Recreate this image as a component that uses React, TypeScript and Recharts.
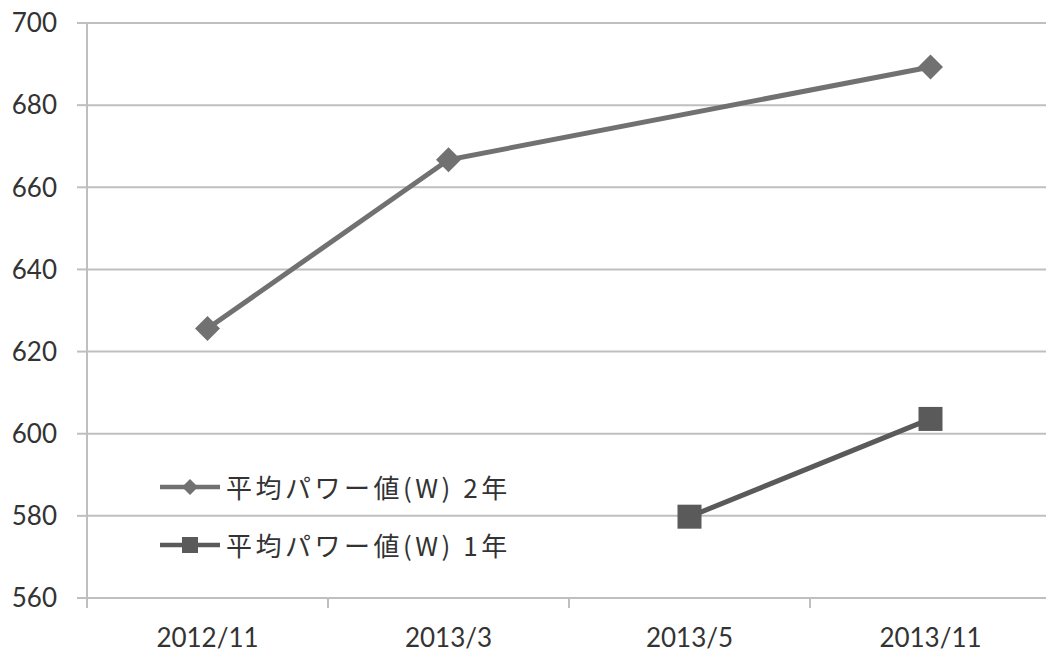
import { CartesianGrid, Line, LineChart, XAxis, YAxis } from "recharts";

// 計測月ごとの平均パワー値
const periods = ["2012/11", "2013/3", "2013/5", "2013/11"];
const twoYearPower = [625.6, 666.7, null, 689.3];
const oneYearPower = [null, null, 579.8, 603.6];
const yTicks = [560, 580, 600, 620, 640, 660, 680, 700];

const TWO_YEAR_LABEL = "平均パワー値(W) 2年";
const ONE_YEAR_LABEL = "平均パワー値(W) 1年";

const chartData = periods.map((period, i) => ({
  period,
  twoYear: twoYearPower[i],
  oneYear: oneYearPower[i],
}));

const CHART_W = 1060;
const CHART_H = 657;
const PLOT_LEFT = 87;
const PLOT_TOP = 23;
const PLOT_RIGHT = 1051;
const PLOT_BOTTOM = 598;
const BAND = (PLOT_RIGHT - PLOT_LEFT) / periods.length;

const GRID = "#bfbfbf";
const TEXT = "#333333";
const TWO_YEAR_COLOR = "#717171";
const ONE_YEAR_COLOR = "#5a5a5a";
const NUM_FONT = "Lato, 'Noto Sans', sans-serif";
const JP_FONT = "'Noto Sans CJK JP', sans-serif";

type DotProps = { cx?: number; cy?: number; index?: number };

function DiamondDot({ cx, cy, index }: DotProps) {
  if (cx == null || cy == null || !Number.isFinite(cy)) return <g key={`d-${index}`} />;
  const r = 12.5;
  return (
    <polygon
      key={`d-${index}`}
      points={`${cx},${cy - r} ${cx + r},${cy} ${cx},${cy + r} ${cx - r},${cy}`}
      fill={TWO_YEAR_COLOR}
    />
  );
}

function SquareDot({ cx, cy, index }: DotProps) {
  if (cx == null || cy == null || !Number.isFinite(cy)) return <g key={`s-${index}`} />;
  const h = 12;
  return <rect key={`s-${index}`} x={cx - h} y={cy - h} width={h * 2} height={h * 2} fill={ONE_YEAR_COLOR} />;
}

// 区間の境目に目盛り線、区間の中央にラベル
function PeriodTick({ x, payload }: { x?: number; payload?: { value: string } }) {
  const cx = Number(x);
  const left = cx - BAND / 2;
  return (
    <g>
      <line x1={left} x2={left} y1={PLOT_BOTTOM} y2={PLOT_BOTTOM + 10} stroke={GRID} strokeWidth={2} />
      <text
        x={cx}
        y={PLOT_BOTTOM + 39}
        textAnchor="middle"
        dominantBaseline="central"
        fill={TEXT}
        fontSize={26}
        fontFamily={NUM_FONT}
      >
        {payload?.value}
      </text>
    </g>
  );
}

function LegendIcon({ kind }: { kind: "diamond" | "square" }) {
  const color = kind === "diamond" ? TWO_YEAR_COLOR : ONE_YEAR_COLOR;
  return (
    <svg width={64} height={30} style={{ display: "block" }}>
      <line x1={2} x2={62} y1={15} y2={15} stroke={color} strokeWidth={4.5} />
      {kind === "diamond" ? (
        <polygon points="32,7 40,15 32,23 24,15" fill={color} />
      ) : (
        <rect x={24} y={7} width={16} height={16} fill={color} />
      )}
    </svg>
  );
}

function SeriesLegend() {
  const rows: { label: string; kind: "diamond" | "square" }[] = [
    { label: TWO_YEAR_LABEL, kind: "diamond" },
    { label: ONE_YEAR_LABEL, kind: "square" },
  ];
  return (
    <div
      style={{
        position: "absolute",
        left: 158,
        top: 458,
        fontFamily: JP_FONT,
        fontSize: 26,
        color: TEXT,
      }}
    >
      {rows.map((row) => (
        <div key={row.label} style={{ display: "flex", alignItems: "center", height: 58 }}>
          <LegendIcon kind={row.kind} />
          <span style={{ marginLeft: 4, whiteSpace: "nowrap", lineHeight: "30px", letterSpacing: 3.5 }}>
            {row.label}
          </span>
        </div>
      ))}
    </div>
  );
}

export default function App() {
  return (
    <div
      style={{
        position: "absolute",
        left: 0,
        top: 0,
        width: 1046,
        height: 657,
        overflow: "hidden",
        background: "#ffffff",
      }}
    >
      <LineChart
        width={CHART_W}
        height={CHART_H}
        data={chartData}
        margin={{ top: PLOT_TOP, right: CHART_W - PLOT_RIGHT, bottom: 0, left: 0 }}
      >
        <CartesianGrid vertical={false} stroke={GRID} strokeWidth={2} />
        <XAxis
          dataKey="period"
          height={CHART_H - PLOT_BOTTOM}
          padding={{ left: BAND / 2, right: BAND / 2 }}
          axisLine={{ stroke: GRID, strokeWidth: 2 }}
          tickLine={false}
          tick={<PeriodTick />}
          interval={0}
        />
        <YAxis
          domain={[560, 700]}
          ticks={yTicks}
          width={PLOT_LEFT}
          axisLine={{ stroke: GRID, strokeWidth: 2 }}
          tickLine={{ stroke: GRID, strokeWidth: 2 }}
          tickSize={10}
          tickMargin={20}
          tick={{ fill: TEXT, fontSize: 26, fontFamily: NUM_FONT }}
          allowDataOverflow
        />
        <Line
          dataKey="twoYear"
          name={TWO_YEAR_LABEL}
          stroke={TWO_YEAR_COLOR}
          strokeWidth={5}
          connectNulls
          dot={<DiamondDot />}
          activeDot={false}
          isAnimationActive={false}
        />
        <Line
          dataKey="oneYear"
          name={ONE_YEAR_LABEL}
          stroke={ONE_YEAR_COLOR}
          strokeWidth={5}
          dot={<SquareDot />}
          activeDot={false}
          isAnimationActive={false}
        />
      </LineChart>
      <SeriesLegend />
    </div>
  );
}
